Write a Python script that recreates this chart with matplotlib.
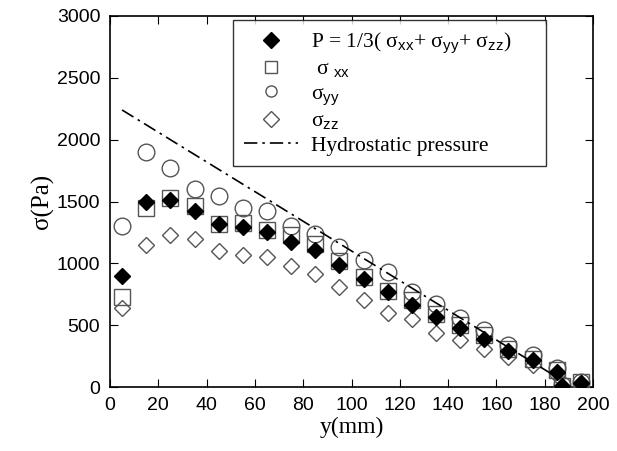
import matplotlib
matplotlib.use("Agg")
import matplotlib.pyplot as plt

plt.rcParams["font.family"] = ["Liberation Sans", "DejaVu Sans"]
plt.rcParams["mathtext.fontset"] = "custom"
plt.rcParams["mathtext.rm"] = "Liberation Serif"
plt.rcParams["mathtext.sf"] = "Liberation Sans"

# positions (mm)
y_mm = [5, 15, 25, 35, 45, 55, 65, 75, 85, 95, 105, 115, 125, 135, 145,
        155, 165, 175, 185, 187, 195]

# stresses (Pa)
p_mean = [900, 1500, 1510, 1420, 1320, 1290, 1250, 1170, 1110, 985, 870,
          770, 665, 565, 475, 390, 290, 220, 120, 5, 35]
s_xx = [730, 1450, 1530, 1460, 1320, 1330, 1270, 1230, 1160, 1020, 890,
        780, 700, 590, 500, 420, 310, 230, 140, 10, 40]
s_yy = [1300, 1900, 1770, 1600, 1545, 1450, 1420, 1300, 1240, 1130, 1030,
        930, 770, 670, 560, 460, 340, 260, 150, 20, 40]
s_zz = [640, 1150, 1230, 1200, 1100, 1070, 1050, 980, 910, 810, 700,
        600, 550, 440, 380, 310, 240, 180, 100, 0, 30]

# hydrostatic pressure line end points
hydro_y = [5, 185]
hydro_p = [2240, 80]

fig = plt.figure(figsize=(6.17, 4.51), dpi=100)
ax = fig.add_axes([110 / 617, 1 - 387 / 451, 483 / 617, 371 / 451])

grey = "#555555"
ax.plot(y_mm, p_mean, "D", ms=8, color="black", mec="black",
        label=r"P = 1/3( σ$_{\mathsf{xx}}$+ σ$_{\mathsf{yy}}$+ σ$_{\mathsf{zz}}$)", zorder=5)
ax.plot(y_mm, s_xx, "s", ms=11, mfc="none", mec=grey, mew=1.0,
        label=r" σ$_{\mathsf{\ xx}}$", zorder=3)
ax.plot(y_mm, s_yy, "o", ms=12, mfc="none", mec=grey, mew=1.0,
        label=r"σ$_{\mathsf{yy}}$", zorder=3)
ax.plot(y_mm, s_zz, "D", ms=8, mfc="none", mec=grey, mew=1.0,
        label=r"σ$_{\mathsf{zz}}$", zorder=3)
ax.plot(hydro_y, hydro_p, color="black", lw=1.2, dashes=(8, 3, 1.5, 3),
        label="Hydrostatic pressure", zorder=4)

ax.set_xlim(0, 200)
ax.set_ylim(0, 3000)
ax.set_xticks(range(0, 201, 20))
ax.set_yticks(range(0, 3001, 500))
ax.tick_params(direction="in", top=True, right=True, length=6,
               labelsize=14, pad=7)
for s in ax.spines.values():
    s.set_linewidth(1.2)

ax.set_xlabel("y(mm)", fontsize=17, family="Liberation Serif", labelpad=2)
ax.set_ylabel("σ(Pa)", fontsize=18, family="Liberation Serif", labelpad=2)

leg = ax.legend(loc="upper left", bbox_to_anchor=(0.2547, 0.0, 0.648, 0.989),
                mode="expand",
                frameon=True, fancybox=False, edgecolor="black",
                prop={"family": "Liberation Serif", "size": 15.5},
                handlelength=2.5, borderpad=0.5, labelspacing=0.17,
                handletextpad=0.6, borderaxespad=0.0)
leg.get_frame().set_linewidth(1.0)
for h in leg.legend_handles:
    h.set_markersize(8)

fig.savefig("out.png", dpi=100)
